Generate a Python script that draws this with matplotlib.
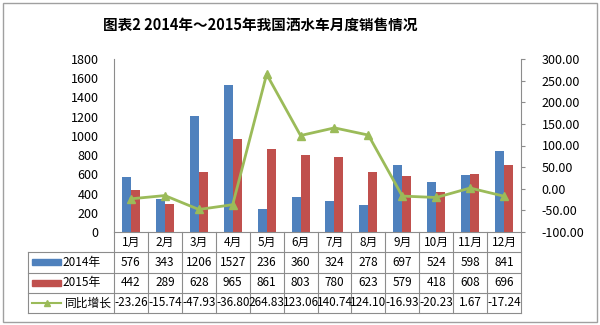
import matplotlib
matplotlib.use("Agg")
import matplotlib.pyplot as plt
from matplotlib.patches import Rectangle
from matplotlib.lines import Line2D
from matplotlib.ticker import FormatStrFormatter, MultipleLocator

plt.rcParams["font.family"] = ["Noto Sans CJK SC", "DejaVu Sans"]

months = ["1月", "2月", "3月", "4月", "5月", "6月", "7月", "8月", "9月", "10月", "11月", "12月"]
sales_2014 = [576, 343, 1206, 1527, 236, 360, 324, 278, 697, 524, 598, 841]
sales_2015 = [442, 289, 628, 965, 861, 803, 780, 623, 579, 418, 608, 696]
growth = [-23.26, -15.74, -47.93, -36.80, 264.83, 123.06, 140.74, 124.10, -16.93, -20.23, 1.67, -17.24]
growth_labels = ["-23.26", "-15.74", "-47.93", "-36.80", "264.83", "123.06", "140.74",
                 "124.10", "-16.93", "-20.23", "1.67", "-17.24"]

blue = "#4F81BD"
red = "#C0504D"
green = "#9BBB59"
grid_c = "#8C8C8C"

W, H = 600, 325
fig = plt.figure(figsize=(6, 3.25), dpi=100)


def fx(px):
    return px / W


def fy(py):
    return 1 - py / H


# outer frame
fig.patches.append(Rectangle((fx(3), fy(322)), fx(594), 319 / H, transform=fig.transFigure,
                             fill=False, edgecolor="#A0A0A0", lw=1))

fig.text(fx(260), fy(25), "图表2 2014年～2015年我国洒水车月度销售情况", ha="center", va="center",
         fontsize=10.5, fontweight="bold")

left, right, top, bottom = 114, 521, 59, 232
ax = fig.add_axes([fx(left), fy(bottom), (right - left) / W, (bottom - top) / H])
x = list(range(len(months)))
bw = 0.265
ax.bar([i - bw / 2 for i in x], sales_2014, width=bw, color=blue)
ax.bar([i + bw / 2 for i in x], sales_2015, width=bw, color=red)
ax.set_xlim(-0.5, 11.5)
ax.set_ylim(0, 1800)
ax.yaxis.set_major_locator(MultipleLocator(200))
ax.set_xticks([])
ax.tick_params(axis="y", length=0, labelsize=9, pad=11)
for s in ["top", "right", "bottom"]:
    ax.spines[s].set_visible(False)
ax.spines["left"].set_color(grid_c)

ax2 = ax.twinx()
ax2.plot(x, growth, color=green, lw=2, marker="^", markersize=6)
ax2.set_ylim(-100, 300)
ax2.yaxis.set_major_locator(MultipleLocator(50))
ax2.yaxis.set_major_formatter(FormatStrFormatter("%.2f"))
ax2.tick_params(axis="y", length=3, labelsize=9, color=grid_c, pad=12)
for s in ["top", "left", "bottom"]:
    ax2.spines[s].set_visible(False)
ax2.spines["right"].set_color(grid_c)

# data table
tl = 28
tax = fig.add_axes([fx(tl), fy(313), (right - tl) / W, (313 - bottom) / H])
unit = (right - left) / 12
tax.set_xlim(-0.5 - (left - tl) / unit, 11.5)
tax.set_ylim(4, 0)
tax.axis("off")
x0 = -0.5 - (left - tl) / unit
lkw = dict(color=grid_c, lw=0.8, clip_on=False)
tax.add_line(Line2D([-0.5, 11.5], [0, 0], **lkw))
for r in [1, 2, 3, 4]:
    tax.add_line(Line2D([x0, 11.5], [r, r], **lkw))
for c in range(13):
    tax.add_line(Line2D([c - 0.5, c - 0.5], [0, 4], **lkw))
tax.add_line(Line2D([x0, x0], [1, 4], **lkw))

fs = 8.5
for i, m in enumerate(months):
    tax.text(i, 0.5, m, ha="center", va="center", fontsize=fs)
    tax.text(i, 1.5, str(sales_2014[i]), ha="center", va="center", fontsize=fs)
    tax.text(i, 2.5, str(sales_2015[i]), ha="center", va="center", fontsize=fs)
    tax.text(i, 3.5, growth_labels[i], ha="center", va="center", fontsize=fs)

kx0 = x0 + 4 / unit
kx1 = x0 + 33 / unit
tax.add_patch(Rectangle((kx0, 1.35), kx1 - kx0, 0.3, color=blue))
tax.add_patch(Rectangle((kx0, 2.35), kx1 - kx0, 0.3, color=red))
tax.add_line(Line2D([kx0, kx1], [3.5, 3.5], color=green, lw=1.5))
tax.plot([(kx0 + kx1) / 2], [3.5], marker="^", color=green, markersize=4)
tax.text(kx1 + 1 / unit, 1.5, "2014年", ha="left", va="center", fontsize=fs)
tax.text(kx1 + 1 / unit, 2.5, "2015年", ha="left", va="center", fontsize=fs)
tax.text(kx1 + 4 / unit, 3.5, "同比增长", ha="left", va="center", fontsize=fs)

fig.savefig("out.png", dpi=100)
